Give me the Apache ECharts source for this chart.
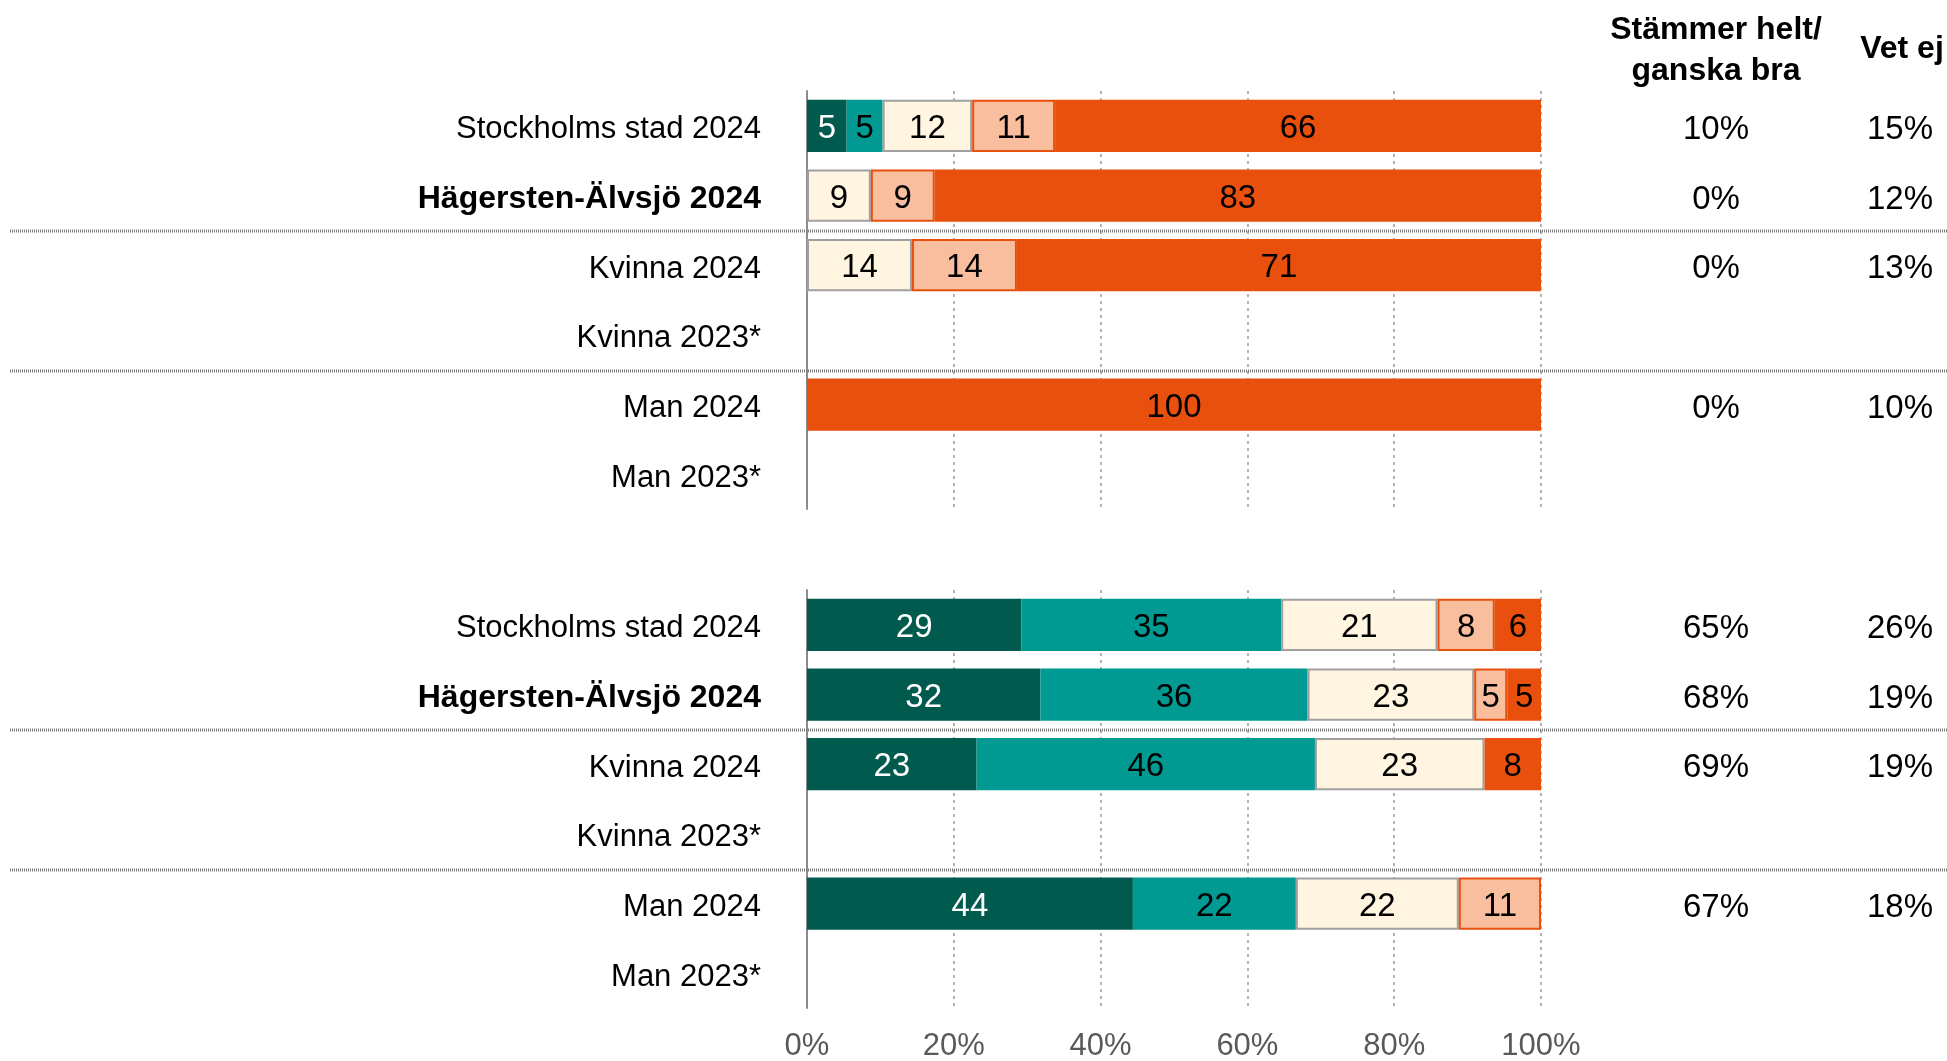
<!DOCTYPE html>
<html>
<head>
<meta charset="utf-8">
<script src="https://cdn.jsdelivr.net/npm/echarts@6/dist/echarts.min.js"></script>
<style>
  html, body { margin: 0; padding: 0; background: #fff; }
  #chart { width: 1947px; height: 1061px; }
</style>
</head>
<body>
<div id="chart"></div>
<script>
// Kategorier (uppifrån och ned)
const categories = ["Stockholms stad 2024", "Hägersten-Älvsjö 2024", "Kvinna 2024", "Kvinna 2023*", "Man 2024", "Man 2023*"];
const seriesNames = ["Stämmer helt", "Stämmer ganska bra", "Varken eller", "Stämmer ganska dåligt", "Stämmer inte alls"];

// Övre blocket
const upperHelt = [5.4, null, null, null, null, null];
const upperGanskaBra = [4.9, null, null, null, null, null];
const upperVarken = [12.2, 8.7, 14.3, null, null, null];
const upperGanskaDaligt = [11.3, 8.7, 14.3, null, null, null];
const upperInteAlls = [66.2, 82.6, 71.4, null, 100, null];
const upperAgree = ["10%", "0%", "0%", "", "0%", ""];
const upperDontKnow = ["15%", "12%", "13%", "", "10%", ""];

// Nedre blocket
const lowerHelt = [29.2, 31.8, 23.1, null, 44.4, null];
const lowerGanskaBra = [35.4, 36.4, 46.1, null, 22.2, null];
const lowerVarken = [21.3, 22.7, 23.1, null, 22.2, null];
const lowerGanskaDaligt = [7.8, 4.5, null, null, 11.2, null];
const lowerInteAlls = [6.3, 4.6, 7.7, null, null, null];
const lowerAgree = ["65%", "68%", "69%", "", "67%", ""];
const lowerDontKnow = ["26%", "19%", "19%", "", "18%", ""];

const FONT = "'Liberation Sans', Arial, sans-serif";

const colors = ["#005a4e", "#009a93", "#fff5e1", "#f8be9d", "#e9500e"];
const borders = ["#005a4e", "#009a93", "#a0a0a0", "#e8500f", "#e9500e"];
const labelColors = ["#ffffff", "#000000", "#000000", "#000000", "#000000"];

const chart = echarts.init(document.getElementById("chart"));

const grids = [
  { left: 807, right: 406, top: 91, height: 418, outerBoundsMode: "none" },
  { left: 807, right: 406, top: 590, height: 418, outerBoundsMode: "none" },
];

function xAxisFor(i) {
  return {
    type: "value",
    gridIndex: i,
    min: 0,
    max: 100,
    interval: 20,
    axisLine: { show: false },
    axisTick: { show: false },
    axisLabel: {
      show: i === 1,
      formatter: "{value}%",
      color: "#595959",
      fontFamily: FONT,
      fontSize: 31,
      margin: 23,
    },
    splitLine: {
      show: true,
      lineStyle: { color: "#b4b4b4", width: 2, type: [3, 4] },
    },
  };
}

function yAxesFor(i, agree, dontKnow) {
  const side = (data, offset) => ({
    type: "category",
    gridIndex: i,
    data: data,
    inverse: true,
    position: "right",
    offset: offset,
    axisLine: { show: false },
    axisTick: { show: false },
    axisLabel: {
      align: "center",
      margin: 0,
      formatter: (v) => (v ? "{v|" + v + "}" : ""),
      rich: {
        v: { color: "#000", fontFamily: FONT, fontSize: 33, padding: [8, 0, 0, 0] },
      },
    },
  });
  return [
    {
      type: "category",
      gridIndex: i,
      data: categories,
      inverse: true,
      axisLine: { show: true, lineStyle: { color: "#8c8c8c", width: 2 } },
      axisTick: { show: false },
      axisLabel: {
        margin: 46,
        formatter: (v) => (v.indexOf("Hägersten") === 0 ? "{b|" + v + "}" : "{n|" + v + "}"),
        rich: {
          n: { fontFamily: FONT, fontSize: 31, color: "#000", padding: [8, 0, 0, 0] },
          b: { fontFamily: FONT, fontWeight: "bold", fontSize: 32, color: "#000", padding: [8, 0, 0, 0] },
        },
      },
    },
    side(agree, 175),
    side(dontKnow, 359),
  ];
}

function barSeries(gridIdx, values) {
  return values.map((data, k) => ({
    name: seriesNames[k],
    type: "bar",
    stack: "g" + gridIdx,
    xAxisIndex: gridIdx,
    yAxisIndex: gridIdx * 3,
    barWidth: "75%",
    data: data,
    itemStyle: {
      color: colors[k],
      borderColor: borders[k],
      borderWidth: k === 2 || k === 3 ? 2 : 0,
    },
    label: {
      show: true,
      position: "inside",
      offset: [0, 3],
      color: labelColors[k],
      fontFamily: FONT,
      fontSize: 33,
      formatter: (p) => (p.value == null ? "" : Math.round(p.value)),
    },
    emphasis: { disabled: true },
  }));
}

chart.setOption({
  backgroundColor: "#fff",
  animation: false,
  grid: grids,
  xAxis: [xAxisFor(0), xAxisFor(1)],
  yAxis: [...yAxesFor(0, upperAgree, upperDontKnow), ...yAxesFor(1, lowerAgree, lowerDontKnow)],
  series: [
    ...barSeries(0, [upperHelt, upperGanskaBra, upperVarken, upperGanskaDaligt, upperInteAlls]),
    ...barSeries(1, [lowerHelt, lowerGanskaBra, lowerVarken, lowerGanskaDaligt, lowerInteAlls]),
  ],
});

// Streckade avdelare mellan grupperna
const separators = [];
[0, 3].forEach((axisIdx) => {
  [[1, 2], [3, 4]].forEach(([a, b]) => {
    const ya = chart.convertToPixel({ yAxisIndex: axisIdx }, a);
    const yb = chart.convertToPixel({ yAxisIndex: axisIdx }, b);
    const y = Math.round((ya + yb) / 2) + 1;
    separators.push({
      type: "line",
      shape: { x1: 10, y1: y, x2: 1947, y2: y },
      style: { stroke: "#7a7a7a", lineWidth: 3, lineDash: [1, 1] },
      z: 10,
    });
  });
});

chart.setOption({
  graphic: [
    ...separators,
    {
      type: "text",
      x: 1716,
      y: 51,
      style: {
        text: "Stämmer helt/\nganska bra",
        fontFamily: FONT,
        fontWeight: "bold",
        fontSize: 32,
        lineHeight: 41,
        fill: "#000",
        align: "center",
        verticalAlign: "middle",
      },
    },
    {
      type: "text",
      x: 1902,
      y: 49,
      style: {
        text: "Vet ej",
        fontFamily: FONT,
        fontWeight: "bold",
        fontSize: 32,
        fill: "#000",
        align: "center",
        verticalAlign: "middle",
      },
    },
  ],
});
</script>
</body>
</html>
